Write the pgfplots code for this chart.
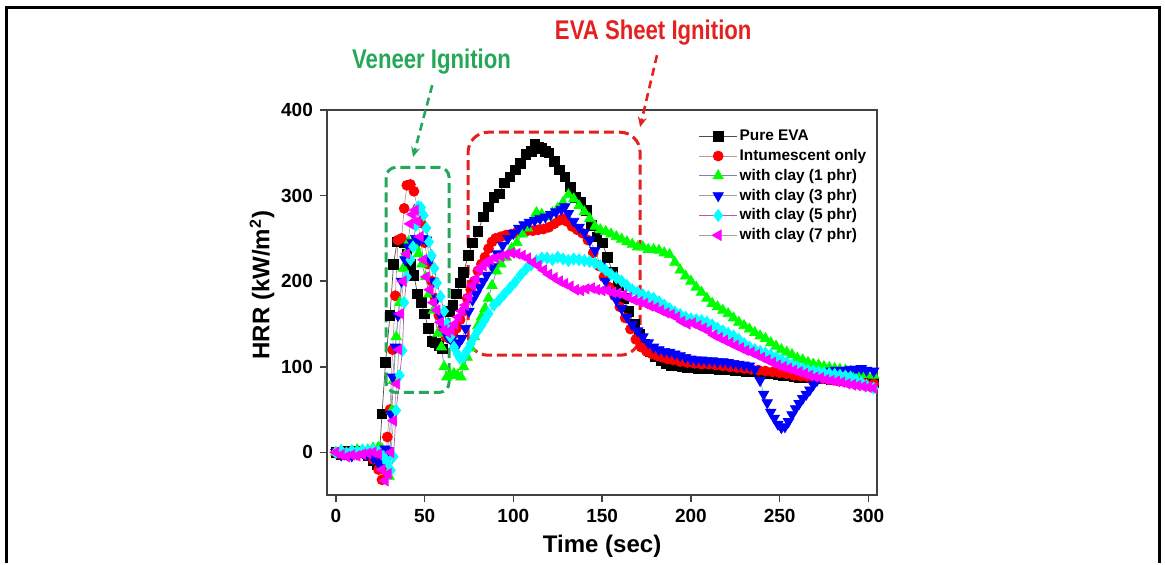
\documentclass[border=0pt]{standalone}
\usepackage{fontspec}
\setmainfont{Liberation Sans}
\newfontfamily\annfont[FakeStretch=0.82]{Liberation Sans}
\usepackage{pgfplots}
\pgfplotsset{compat=1.18}
\usetikzlibrary{arrows.meta}
\definecolor{vgreen}{RGB}{36,168,88}
\definecolor{ered}{RGB}{228,32,32}
\definecolor{mgreen}{RGB}{0,255,0}
\definecolor{mblue}{RGB}{0,0,255}
\definecolor{mcyan}{RGB}{0,255,255}
\definecolor{mmag}{RGB}{255,0,255}
\definecolor{mred}{RGB}{255,0,0}
\begin{document}
\begin{tikzpicture}
\begin{axis}[
  width=275pt, height=192.5pt, scale only axis,
  xmin=-5, xmax=305, ymin=-50, ymax=400,
  xtick={0,50,...,300}, ytick={0,100,...,400},
  tick align=outside, xtick pos=bottom, ytick pos=left,
  major tick length=3.5pt,
  axis line style={draw=black!75, line width=0.9pt},
  tick style={draw=black!75, line width=0.8pt},
  /pgf/number format/assume math mode=true,
  ticklabel style={font=\bfseries\fontsize{9.5}{10}\selectfont},
  xlabel={Time (sec)}, ylabel={HRR (kW/m$^{\mathbf{2}}$)},
  label style={font=\bfseries\fontsize{12}{13}\selectfont},
  xlabel style={at={(axis description cs:0.5,-0.132)}, anchor=center},
  ylabel style={at={(axis description cs:-0.118,0.545)}, anchor=center},
  clip=false,
  legend style={at={(rel axis cs:0.664,0.968)}, anchor=north west, draw=none, fill=none,
    font=\bfseries\fontsize{7.7}{9}\selectfont, row sep=0.4pt,
    nodes={text height=6pt, text depth=1.5pt, inner sep=1pt}},
  legend cell align=left,
  legend image code/.code={\draw[mark repeat=2,mark phase=2,#1] plot coordinates {(0cm,0cm) (0.335cm,0cm) (0.67cm,0cm)};},
]
% bounding box and outer frame
\path (axis cs:-189.2,-129.5) rectangle (axis cs:467.1,528.5);
\draw[black, line width=1.5pt] (axis cs:-185.8,-129.5) -- (axis cs:-185.8,519.4) -- (axis cs:463.9,519.4) -- (axis cs:463.9,-129.5);

\addplot[color=black!70, line width=0.35pt, mark=square*, mark size=2.4pt, mark options={solid, fill=black, draw=black}] coordinates {
(0,0) (3,-2) (6,1) (9,-1) (12,2) (15,0) (18,-4) (21,-10) (23,-14) (24.5,-5) (26,45) (28,105) (30.5,160) (32.5,220) (34.5,246) (36.5,247) (38.5,245) (40,232) (42,220) (44,207) (46,185) (48,175) (50,162) (52,145) (54,130) (56,128) (58,125) (60,121) (62,145) (64,165) (66,172) (68,185) (70,198) (72,210) (74.5,230) (77,245) (80,258) (83,275) (86,287) (89,298) (92,302) (95,315) (98,322) (101,330) (104,338) (107,348) (110,352) (112,360) (114,357) (116,355) (118,352) (120,350) (123,340) (126,330) (129,322) (132,310) (135,298) (138,292) (141,283) (144,265) (147,252) (150,245) (153,228) (156,210) (159,195) (162,180) (165,165) (168,150) (171,138) (174,126) (177,118) (180,112) (183,107) (186,104) (189,102) (192,101) (195,100) (198,99) (201,99) (204,98) (207,98) (210,98) (213,98) (216,97) (219,97) (222,97) (225,96) (228,96) (231,95) (234,95) (237,94) (240,93) (243,92) (246,92) (249,91) (252,90) (255,90) (258,89) (261,88) (264,88) (267,87) (270,87) (273,86) (276,86) (279,85) (282,85) (285,84) (288,84) (291,83) (294,83) (297,83) (300,82) (303,82)
};
\addlegendentry{Pure EVA}

\addplot[color={rgb,255:red,196;green,150;blue,150}, line width=0.35pt, mark=*, mark size=2.5pt, mark options={solid, fill=mred, draw=mred}] coordinates {
(0,0) (3,-3) (6,0) (9,-2) (12,1) (15,-1) (18,-3) (21,-8) (24,-20) (26,-32) (28,-20) (29,18) (30.5,50) (32,120) (33.5,183) (35,248) (37,250) (38.5,285) (40,312) (42,313) (44,305) (46,285) (48,268) (50,245) (52,220) (54,200) (56,180) (58,160) (60,145) (62,135) (64,133) (66,138) (68,145) (70,155) (72,165) (74,180) (76,190) (78,200) (80,212) (82,220) (84,228) (86,238) (88,246) (90,250) (93,252) (96,254) (99,255) (102,257) (105,258) (108,259) (111,259) (114,260) (117,261) (120,263) (123,267) (126,271) (128,273) (130,270) (133,264) (136,260) (139,256) (142,248) (145,233) (148,218) (151,205) (154,193) (157,183) (160,170) (163,157) (166,144) (169,132) (172,123) (175,118) (178,115) (181,113) (184,111) (187,109) (190,108) (194,106) (198,105) (202,104) (206,103) (210,103) (214,102) (218,101) (222,100) (226,99) (230,98) (234,97) (238,96) (242,95) (246,94) (250,93) (254,92) (258,90) (262,89) (266,88) (270,87) (274,86) (278,85) (282,84) (286,83) (290,82) (294,82) (298,81) (303,80)
};
\addlegendentry{Intumescent only}

\addplot[color={rgb,255:red,128;green,128;blue,192}, line width=0.35pt, mark=triangle*, mark size=3pt, mark options={solid, fill=mgreen, draw=mgreen}] coordinates {
(0,0) (3,2) (6,-1) (9,1) (12,3) (15,2) (18,3) (21,5) (24,6) (26,4) (28,-5) (30,-28) (31.5,49) (32.5,84) (34,135) (36,175) (38,215) (39.5,232) (41,246) (43,245) (45,240) (46.5,232) (48.5,220) (50.5,205) (52.5,185) (55,166) (57.5,139) (59.5,123) (61,100) (62.5,88) (64.5,90) (66.5,92) (68.5,90) (70.5,88) (72,100) (74,111) (76,122) (78,135) (80,148) (82,158) (84,168) (86,180) (88,195) (90.5,212) (93,220) (96,228) (99,238) (102,245) (105,255) (108,262) (111,272) (113,280) (116,278) (119,275) (122,280) (125,285) (128,292) (131,301) (134,296) (137,288) (140,281) (143,273) (146,264) (149,260) (152,258) (155,255) (158,252) (161,249) (164,246) (167,243) (170,240) (173,240) (176,237) (179,237) (182,236) (185,233) (188,231) (191,222) (194,213) (197,206) (200,200) (203,193) (206,187) (209,180) (212,174) (215,170) (218,166) (221,162) (224,157) (227,152) (230,148) (233,144) (236,140) (239,136) (242,133) (245,128) (248,124) (251,120) (254,117) (257,114) (260,110) (263,108) (266,105) (269,103) (272,102) (275,100) (278,99) (281,98) (284,97) (287,96) (290,95) (293,93) (296,92) (299,91) (303,90)
};
\addlegendentry{with clay (1 phr)}

\addplot[color={rgb,255:red,150;green,165;blue,165}, line width=0.35pt, mark=triangle*, mark size=3pt, mark options={solid, rotate=180, fill=mblue, draw=mblue}] coordinates {
(0,0) (3,-3) (6,-1) (9,-4) (12,-2) (15,0) (18,-2) (21,-6) (24,-12) (26,-17) (27.5,4) (29.5,2) (31,45) (32,88) (33.5,123) (35,160) (37,200) (39,225) (41,240) (43,245) (45,250) (47,248) (49,250) (51,248) (53,225) (55,200) (57,180) (59,160) (61,145) (63,135) (65,131) (67,128) (69,127) (71,133) (73,145) (75,165) (77,178) (79,185) (81,193) (83,200) (85,207) (88,217) (91,232) (94,242) (97,250) (100,256) (103,262) (106,266) (109,269) (112,271) (115,273) (118,275) (121,278) (124,281) (127,284) (129,287) (131,279) (134,270) (137,263) (140,257) (143,248) (146,236) (149,218) (152,200) (155,188) (158,178) (161,168) (164,158) (167,149) (170,142) (173,135) (176,128) (179,123) (182,120) (185,118) (188,117) (191,115) (194,113) (197,111) (200,109) (203,108) (206,108) (209,107) (212,107) (215,106) (218,106) (221,105) (224,104) (227,103) (230,102) (233,101) (236,97) (239,84) (241,68) (243,58) (245,47) (247,40) (249,33) (251,29) (253,30) (255,36) (257,44) (259,51) (261,57) (263,63) (265,68) (267,73) (269,79) (271,84) (273,89) (275,93) (278,95) (281,96) (284,96) (287,96) (290,97) (293,97) (296,98) (299,96) (303,95)
};
\addlegendentry{with clay (3 phr)}

\addplot[color={rgb,255:red,180;green,90;blue,180}, line width=0.35pt, mark=diamond*, mark size=3pt, mark options={solid, fill=mcyan, draw=mcyan}] coordinates {
(0,0) (3,2) (6,-1) (9,2) (12,0) (15,3) (18,2) (21,3) (24,1) (27,-5) (29,-12) (31,-21) (32.5,-5) (34,49) (36,90) (37.5,119) (38.5,175) (40,205) (42,225) (43.5,240) (45,265) (46.5,287) (48,286) (49.5,277) (51,262) (52.5,246) (54,230) (55.5,215) (57,198) (59,182) (61,165) (62.5,150) (64.5,135) (66.5,123) (68.5,115) (70,110) (72,112) (74,119) (76,127) (78,135) (80,142) (82,148) (84,155) (86,162) (89,172) (92,178) (95,185) (98,192) (101,199) (104,207) (107,214) (110,219) (113,224) (116,227) (119,227) (122,225) (125,228) (128,226) (131,224) (134,226) (137,225) (140,224) (143,223) (146,221) (149,218) (152,213) (155,208) (158,204) (161,200) (164,195) (167,190) (170,187) (173,184) (176,182) (179,180) (182,176) (185,172) (188,168) (191,164) (194,161) (197,158) (200,156) (203,155) (206,154) (209,152) (212,149) (215,145) (218,142) (221,139) (224,136) (227,132) (230,127) (233,123) (236,120) (239,118) (242,116) (245,114) (248,111) (251,108) (254,105) (257,102) (260,100) (263,98) (266,96) (269,95) (272,94) (275,93) (278,92) (281,91) (284,90) (287,89) (290,88) (293,85) (296,82) (299,78) (303,75)
};
\addlegendentry{with clay (5 phr)}

\addplot[color={rgb,255:red,165;green,165;blue,145}, line width=0.35pt, mark=triangle*, mark size=3pt, mark options={solid, rotate=90, fill=mmag, draw=mmag}] coordinates {
(0,0) (3,-3) (6,-5) (9,-3) (12,-4) (15,-2) (18,-1) (21,0) (24,-2) (26,-20) (27.8,-33) (29.5,-25) (31,0) (32.5,37) (34.3,80) (35.5,120) (36.5,162) (38,200) (40,232) (41.9,267) (43.3,278) (44.7,283) (46,270) (47.5,252) (49.4,225) (51,205) (53,190) (55,175) (57,166) (59,152) (61,143) (63,140) (65,143) (67,150) (69,158) (71,165) (73,172) (75,182) (77,195) (79,203) (81,214) (83,218) (85,222) (87,225) (90,227) (93,229) (96,231) (99,233) (102,232) (105,230) (108,227) (111,222) (114,218) (117,213) (120,208) (123,204) (126,200) (129,197) (132,194) (135,190) (138,189) (141,191) (144,192) (147,190) (150,189) (153,189) (156,187) (159,186) (162,184) (165,181) (168,178) (171,176) (174,174) (177,171) (180,169) (183,166) (186,163) (189,161) (192,158) (195,153) (198,150) (201,151) (204,148) (207,145) (210,142) (213,137) (216,134) (219,131) (222,128) (225,125) (228,122) (231,119) (234,117) (237,114) (240,111) (243,108) (246,105) (249,102) (252,100) (255,98) (258,96) (261,94) (264,92) (267,90) (270,88) (273,87) (276,85) (279,84) (282,83) (285,82) (288,80) (291,79) (294,78) (297,77) (300,76) (303,75)
};
\addlegendentry{with clay (7 phr)}

% annotations
\draw[vgreen, line width=1.5pt, dash pattern=on 5pt off 2.5pt, rounded corners=5pt] (axis cs:28.3,70) rectangle (axis cs:63.8,333);
\draw[ered, line width=1.5pt, dash pattern=on 5pt off 2.5pt, rounded corners=10pt] (axis cs:74.5,113.5) rectangle (axis cs:171.4,374);
\draw[vgreen, line width=1.3pt, dash pattern=on 4pt off 2.5pt, -{Stealth[length=5pt,width=4.5pt]}] (axis cs:54.3,429) -- (axis cs:43.5,345);
\draw[ered, line width=1.3pt, dash pattern=on 4pt off 2.5pt, -{Stealth[length=5pt,width=4.5pt]}] (axis cs:180.9,464) -- (axis cs:171.4,380);
\node[text=vgreen, font=\annfont\bfseries\fontsize{13.5}{14}\selectfont, inner sep=0pt] at (axis cs:53.9,456) {Veneer Ignition};
\node[text=ered, font=\annfont\bfseries\fontsize{13.5}{14}\selectfont, inner sep=0pt] at (axis cs:178.8,490) {EVA Sheet Ignition};
\end{axis}
\end{tikzpicture}
\end{document}
